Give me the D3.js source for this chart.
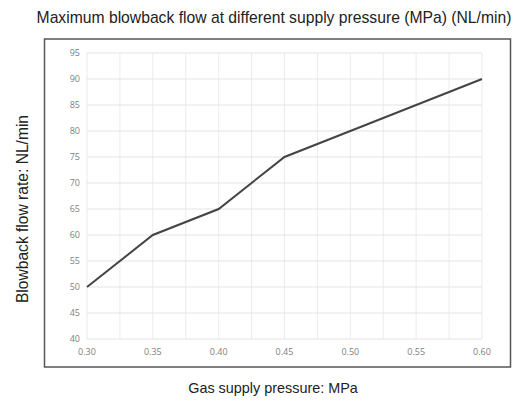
<!DOCTYPE html>
<html>
<head>
<meta charset="utf-8">
<script src="https://cdn.jsdelivr.net/npm/d3@7"></script>
<style>
  html, body { margin: 0; padding: 0; background: #fff; }
  svg { display: block; }
</style>
</head>
<body>
<div id="chart"></div>
<script>
// data
const pressure = [0.30, 0.35, 0.40, 0.45, 0.50, 0.55, 0.60];
const flow = [50, 60, 65, 75, 80, 85, 90];
const xTicks = [0.30, 0.35, 0.40, 0.45, 0.50, 0.55, 0.60];
const xGrid = [0.30, 0.325, 0.35, 0.375, 0.40, 0.425, 0.45, 0.475, 0.50, 0.525, 0.55, 0.575, 0.60];
const yTicks = [40, 45, 50, 55, 60, 65, 70, 75, 80, 85, 90, 95];

const W = 518, H = 401;

const svg = d3.select("#chart")
  .append("svg")
  .attr("width", W)
  .attr("height", H);

svg.append("rect").attr("width", W).attr("height", H).attr("fill", "#fff");

const x = d3.scaleLinear().domain([0.30, 0.60]).range([87, 482]);
const y = d3.scaleLinear().domain([40, 95]).range([339, 53]);

// outer frame
svg.append("rect")
  .attr("x", 44.5).attr("y", 39)
  .attr("width", 466).attr("height", 328)
  .attr("fill", "none")
  .attr("stroke", "#555")
  .attr("stroke-width", 1.5);

// grid
svg.append("g")
  .selectAll("line")
  .data(xGrid)
  .join("line")
  .attr("x1", d => x(d)).attr("x2", d => x(d))
  .attr("y1", y(95)).attr("y2", y(40))
  .attr("stroke", "#ebebeb")
  .attr("stroke-width", 1);

svg.append("g")
  .selectAll("line")
  .data(yTicks)
  .join("line")
  .attr("x1", x(0.30)).attr("x2", x(0.60))
  .attr("y1", d => y(d)).attr("y2", d => y(d))
  .attr("stroke", "#e3e3e3")
  .attr("stroke-width", 1);

// tick labels
svg.append("g")
  .selectAll("text")
  .data(yTicks)
  .join("text")
  .attr("x", 80)
  .attr("y", d => y(d))
  .attr("dy", "0.35em")
  .attr("text-anchor", "end")
  .attr("font-family", "Open Sans, sans-serif")
  .attr("font-size", 9)
  .attr("fill", "#808080")
  .text(d => d);

svg.append("g")
  .selectAll("text")
  .data(xTicks)
  .join("text")
  .attr("x", d => x(d))
  .attr("y", 355)
  .attr("text-anchor", "middle")
  .attr("font-family", "Open Sans, sans-serif")
  .attr("font-size", 9)
  .attr("fill", "#808080")
  .text(d => d3.format(".2f")(d));

// the line
const line = d3.line()
  .x((d, i) => x(pressure[i]))
  .y(d => y(d));

svg.append("path")
  .datum(flow)
  .attr("d", line)
  .attr("fill", "none")
  .attr("stroke", "#444")
  .attr("stroke-width", 2);

// titles
svg.append("text")
  .attr("x", 274)
  .attr("y", 23)
  .attr("text-anchor", "middle")
  .attr("font-family", "Liberation Sans, Arial, sans-serif")
  .attr("font-size", 15.7)
  .attr("fill", "#222")
  .text("Maximum blowback flow at different supply pressure (MPa) (NL/min)");

svg.append("text")
  .attr("x", 273)
  .attr("y", 393)
  .attr("text-anchor", "middle")
  .attr("font-family", "Liberation Sans, Arial, sans-serif")
  .attr("font-size", 14.4)
  .attr("fill", "#222")
  .text("Gas supply pressure: MPa");

svg.append("text")
  .attr("transform", "translate(28,209) rotate(-90)")
  .attr("text-anchor", "middle")
  .attr("font-family", "Liberation Sans, Arial, sans-serif")
  .attr("font-size", 15.6)
  .attr("fill", "#222")
  .text("Blowback flow rate: NL/min");
</script>
</body>
</html>
